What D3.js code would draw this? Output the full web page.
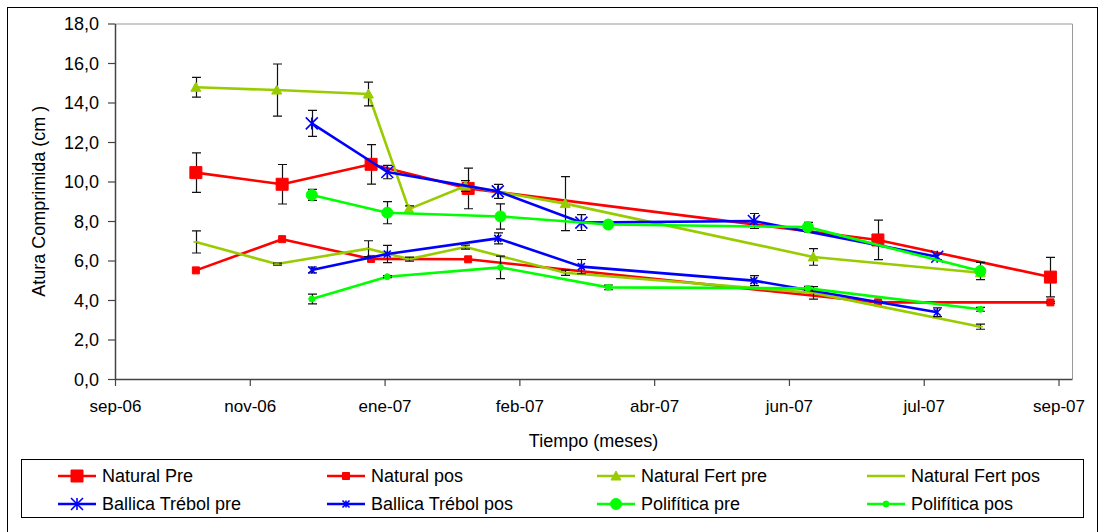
<!DOCTYPE html>
<html>
<head>
<meta charset="utf-8">
<script src="https://cdn.jsdelivr.net/npm/d3@7"></script>
<style>
  body { margin: 0; background: #fff; }
  svg text { font-family: "Liberation Sans", Arial, sans-serif; fill: #000; }
</style>
</head>
<body>
<svg class="main" width="1101" height="532"></svg>
<script>
// sampling dates per pasture type
var NATURAL_DATES = ["2006-10-26", "2006-11-27", "2006-12-30", "2007-02-04", "2007-07-06", "2007-09-08"];
var FERT_DATES = ["2006-10-26", "2006-11-25", "2006-12-29", "2007-01-13", "2007-02-03", "2007-03-12", "2007-06-12", "2007-08-13"];
var BALLICA_DATES = ["2006-12-08", "2007-01-05", "2007-02-15", "2007-03-18", "2007-05-21", "2007-07-28"];
var POLI_DATES = ["2006-12-08", "2007-01-05", "2007-02-16", "2007-03-28", "2007-06-10", "2007-08-13"];

// compressed height (cm) and error bar half-widths
var NATURAL_PRE = [10.45, 9.86, 10.87, 9.65, 7.04, 5.16];
var NATURAL_PRE_ERR = [1.0, 1.0, 1.0, 1.03, 1.0, 1.0];
var NATURAL_POS = [5.5, 7.08, 6.08, 6.06, 3.88, 3.88];
var NATURAL_POS_ERR = [0, 0, 0, 0, 0.05, 0.05];
var FERT_PRE = [14.77, 14.63, 14.43, 8.6, 9.77, 8.88, 6.18, 5.38];
var FERT_PRE_ERR = [0.5, 1.32, 0.6, 0.17, 0.27, 1.37, 0.42, 0.1];
var FERT_POS = [6.94, 5.82, 6.6, 6.07, 6.68, 5.38, 4.36, 2.65];
var FERT_POS_ERR = [0.56, 0.05, 0.4, 0.1, 0.1, 0.13, 0.32, 0.13];
var BALLICA_PRE = [12.94, 10.48, 9.5, 7.92, 8.0, 6.19];
var BALLICA_PRE_ERR = [0.66, 0.34, 0.35, 0.4, 0.38, 0.15];
var BALLICA_POS = [5.52, 6.33, 7.12, 5.69, 4.98, 3.38];
var BALLICA_POS_ERR = [0.15, 0.44, 0.28, 0.36, 0.25, 0.22];
var POLI_PRE = [9.32, 8.42, 8.23, 7.82, 7.69, 5.47];
var POLI_PRE_ERR = [0.28, 0.56, 0.64, 0.12, 0.24, 0.44];
var POLI_POS = [4.05, 5.18, 5.65, 4.64, 4.59, 3.53];
var POLI_POS_ERR = [0.25, 0.05, 0.57, 0.12, 0.1, 0.1];

var X_START = "2006-09-26";
var X_DAYS = 355;
var X_TICK_STEP = 50; // days between major ticks
var X_TICK_LABELS = ["sep-06", "nov-06", "ene-07", "feb-07", "abr-07", "jun-07", "jul-07", "sep-07"];
var Y_TICKS = [0, 2, 4, 6, 8, 10, 12, 14, 16, 18];

var RED = "#FF0000", BLUE = "#0000FF", OLIVE = "#99CC00", GREEN = "#00FF00";

var SERIES = [
  { name: "Natural Pre", dates: NATURAL_DATES, values: NATURAL_PRE, err: NATURAL_PRE_ERR, color: RED, marker: "square", size: 12 },
  { name: "Natural pos", dates: NATURAL_DATES, values: NATURAL_POS, err: NATURAL_POS_ERR, color: RED, marker: "square", size: 7 },
  { name: "Natural Fert pre", dates: FERT_DATES, values: FERT_PRE, err: FERT_PRE_ERR, color: OLIVE, marker: "triangle", size: 10 },
  { name: "Natural Fert pos", dates: FERT_DATES, values: FERT_POS, err: FERT_POS_ERR, color: OLIVE, marker: "dash", size: 5 },
  { name: "Ballica Trébol pre", dates: BALLICA_DATES, values: BALLICA_PRE, err: BALLICA_PRE_ERR, color: BLUE, marker: "star", size: 12 },
  { name: "Ballica Trébol pos", dates: BALLICA_DATES, values: BALLICA_POS, err: BALLICA_POS_ERR, color: BLUE, marker: "star", size: 7 },
  { name: "Polifítica pre", dates: POLI_DATES, values: POLI_PRE, err: POLI_PRE_ERR, color: GREEN, marker: "circle", size: 11 },
  { name: "Polifítica pos", dates: POLI_DATES, values: POLI_POS, err: POLI_POS_ERR, color: GREEN, marker: "circle", size: 6 }
];

var parseDate = d3.timeParse("%Y-%m-%d");
var svg = d3.select("svg.main");
var plot = { left: 115, top: 23.5, right: 1072, bottom: 379 };

var startDate = parseDate(X_START);
var x = d3.scaleTime()
  .domain([startDate, d3.timeDay.offset(startDate, X_DAYS)])
  .range([plot.left, plot.right]);
var y = d3.scaleLinear()
  .domain([0, 18])
  .range([plot.bottom, plot.top]);

function drawFrame() {
  // chart area border (bottom edge falls outside the picture)
  svg.append("rect")
    .attr("x", 7.5).attr("y", 7.5)
    .attr("width", 1090).attr("height", 540)
    .attr("fill", "none").attr("stroke", "#000").attr("stroke-width", 1);

  // plot area: grey top / right edges
  svg.append("path")
    .attr("d", "M" + plot.left + "," + (plot.top + 0.5) + "H" + (plot.right + 0.5) + "V" + plot.bottom)
    .attr("fill", "none").attr("stroke", "#999").attr("stroke-width", 1);
}

function drawAxes() {
  var xTicks = d3.range(X_TICK_LABELS.length).map(function(i) {
    return d3.timeDay.offset(startDate, i * X_TICK_STEP);
  });

  var xAxis = svg.append("g")
    .attr("transform", "translate(0," + plot.bottom + ")")
    .call(d3.axisBottom(x)
      .tickValues(xTicks)
      .tickSize(7)
      .tickSizeOuter(0)
      .tickPadding(14)
      .tickFormat(function(d, i) { return X_TICK_LABELS[i]; }));

  var yAxis = svg.append("g")
    .attr("transform", "translate(" + plot.left + ",0)")
    .call(d3.axisLeft(y)
      .tickValues(Y_TICKS)
      .tickSize(7)
      .tickSizeOuter(0)
      .tickPadding(9)
      .tickFormat(function(d) { return d3.format(".1f")(d).replace(".", ","); }));

  [xAxis, yAxis].forEach(function(g) {
    g.select(".domain").attr("stroke", "#444").attr("stroke-width", 1.5);
    g.selectAll(".tick line").attr("stroke", "#444").attr("stroke-width", 1.2);
    g.selectAll(".tick text")
      .attr("font-size", 17)
      .attr("fill", "#000")
      .style("font-family", "'Liberation Sans', Arial, sans-serif");
  });
  yAxis.selectAll(".tick text").attr("font-size", 18).attr("dy", "0.36em");

  svg.append("text")
    .attr("x", (plot.left + plot.right) / 2)
    .attr("y", 447)
    .attr("text-anchor", "middle")
    .attr("font-size", 18)
    .text("Tiempo (meses)");

  svg.append("text")
    .attr("transform", "translate(45," + ((plot.top + plot.bottom) / 2) + ")rotate(-90)")
    .attr("text-anchor", "middle")
    .attr("font-size", 18)
    .text("Atura Comprimida (cm )");
}

function markerPath(type, s) {
  var h = s / 2;
  if (type == "square") return d3.symbol(d3.symbolSquare, s * s)();
  if (type == "circle") return d3.symbol(d3.symbolCircle, Math.PI * h * h)();
  if (type == "triangle") return "M0," + (-h) + "L" + h + "," + (h * 0.8) + "L" + (-h) + "," + (h * 0.8) + "Z";
  if (type == "dash") return "M" + (-h) + ",0H" + h;
  // star: an x with a vertical bar
  return "M" + (-h) + "," + (-h) + "L" + h + "," + h +
    "M" + (-h) + "," + h + "L" + h + "," + (-h) +
    "M0," + (-h) + "V" + h;
}

function drawMarker(g, type, s, color) {
  var open = (type == "star" || type == "dash");
  return g.append("path")
    .attr("d", markerPath(type, s))
    .attr("fill", open ? "none" : color)
    .attr("stroke", color)
    .attr("stroke-width", open ? 1.6 : 1);
}

function drawSeries() {
  var line = d3.line()
    .x(function(d) { return x(d.date); })
    .y(function(d) { return y(d.value); });

  SERIES.forEach(function(s) {
    var pts = s.values.map(function(v, i) {
      return { date: parseDate(s.dates[i]), value: v, err: s.err[i] };
    });
    var g = svg.append("g");

    g.append("path")
      .datum(pts)
      .attr("d", line)
      .attr("fill", "none")
      .attr("stroke", s.color)
      .attr("stroke-width", 2.6)
      .attr("stroke-linejoin", "round");

    // error bars
    pts.filter(function(d) { return d.err > 0; }).forEach(function(d) {
      var cx = Math.round(x(d.date)) + 0.5;
      var y0 = y(d.value - d.err), y1 = y(d.value + d.err);
      g.append("path")
        .attr("d", "M" + cx + "," + y0 + "V" + y1 +
          "M" + (cx - 4.5) + "," + y0 + "H" + (cx + 4.5) +
          "M" + (cx - 4.5) + "," + y1 + "H" + (cx + 4.5))
        .attr("fill", "none")
        .attr("stroke", "#111")
        .attr("stroke-width", 1.2);
    });

    pts.forEach(function(d) {
      drawMarker(g, s.marker, s.size, s.color)
        .attr("transform", "translate(" + x(d.date) + "," + y(d.value) + ")");
    });
  });
}

function drawLegend() {
  var colX = [102, 371, 641, 911];
  var rowY = [476, 504];

  svg.append("rect")
    .attr("x", 21.5).attr("y", 459.5)
    .attr("width", 1062).attr("height", 58)
    .attr("fill", "#fff").attr("stroke", "#000").attr("stroke-width", 1);

  SERIES.forEach(function(s, i) {
    var tx = colX[i % 4], ty = rowY[Math.floor(i / 4)];
    var g = svg.append("g");
    g.append("line")
      .attr("x1", tx - 44).attr("x2", tx - 6)
      .attr("y1", ty).attr("y2", ty)
      .attr("stroke", s.color).attr("stroke-width", 2.6);
    drawMarker(g, s.marker, s.size, s.color)
      .attr("transform", "translate(" + (tx - 25) + "," + ty + ")");
    g.append("text")
      .attr("x", tx).attr("y", ty)
      .attr("dy", "0.36em")
      .attr("font-size", 18)
      .text(s.name);
  });
}

function main() {
  drawFrame();
  drawAxes();
  drawSeries();
  drawLegend();
}

main();
</script>
</body>
</html>
